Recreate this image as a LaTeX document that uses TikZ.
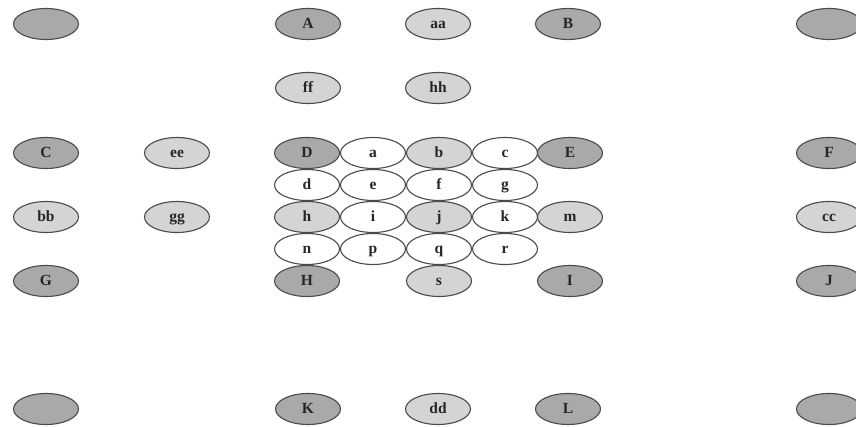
\documentclass[tikz,border=0pt]{standalone}
\usepackage{fontspec}
\setmainfont{Liberation Serif}
\usetikzlibrary{shapes.geometric}
\definecolor{darkfill}{HTML}{A9A9AB}
\definecolor{lightfill}{HTML}{D4D4D6}
\definecolor{edge}{HTML}{4A4A4A}
\tikzset{
  cell/.style={ellipse, draw=edge, line width=1.1pt, minimum width=65pt, minimum height=31pt, inner sep=0pt,
    text height=11pt, text depth=2pt,
    font=\fontsize{15.5}{17}\selectfont\bfseries, text=black!85},
  dk/.style={cell, fill=darkfill},
  lt/.style={cell, fill=lightfill},
  wt/.style={cell, fill=white}
}
\begin{document}
\begin{tikzpicture}[x=1pt,y=-1pt]
\useasboundingbox (0,0) rectangle (856,427);
% top row
\node[dk] (tl) at (46,24) {};
\node[dk] (A) at (308,24) {A};
\node[lt] (aa) at (438,24) {aa};
\node[dk] (B) at (568,24) {B};
\node[dk] (tr) at (829,24) {};
% second row
\node[lt] (ff) at (308,88) {ff};
\node[lt] (hh) at (438,88) {hh};
% grid row 1
\node[dk] (C) at (46,153) {C};
\node[lt] (ee) at (177,153) {ee};
\node[dk] (D) at (307,153) {D};
\node[wt] (a) at (373,153) {a};
\node[lt] (b) at (439,153) {b};
\node[wt] (c) at (505,153) {c};
\node[dk] (E) at (570,153) {E};
\node[dk] (F) at (829,153) {F};
% grid row 2
\node[wt] (d) at (307,185) {d};
\node[wt] (e) at (373,185) {e};
\node[wt] (f) at (439,185) {f};
\node[wt] (g) at (505,185) {g};
% grid row 3
\node[lt] (bb) at (46,217) {bb};
\node[lt] (gg) at (177,217) {gg};
\node[lt] (h) at (307,217) {h};
\node[wt] (i) at (373,217) {i};
\node[lt] (j) at (439,217) {j};
\node[wt] (k) at (505,217) {k};
\node[lt] (m) at (570,217) {m};
\node[lt] (cc) at (829,217) {cc};
% grid row 4
\node[wt] (n) at (307,249) {n};
\node[wt] (p) at (373,249) {p};
\node[wt] (q) at (439,249) {q};
\node[wt] (r) at (505,249) {r};
% row 5
\node[dk] (G) at (46,281) {G};
\node[dk] (H) at (307,281) {H};
\node[lt] (s) at (439,281) {s};
\node[dk] (I) at (570,281) {I};
\node[dk] (J) at (829,281) {J};
% bottom row
\node[dk] (bl) at (46,409) {};
\node[dk] (K) at (308,409) {K};
\node[lt] (dd) at (438,409) {dd};
\node[dk] (L) at (568,409) {L};
\node[dk] (br) at (829,409) {};
\end{tikzpicture}
\end{document}
